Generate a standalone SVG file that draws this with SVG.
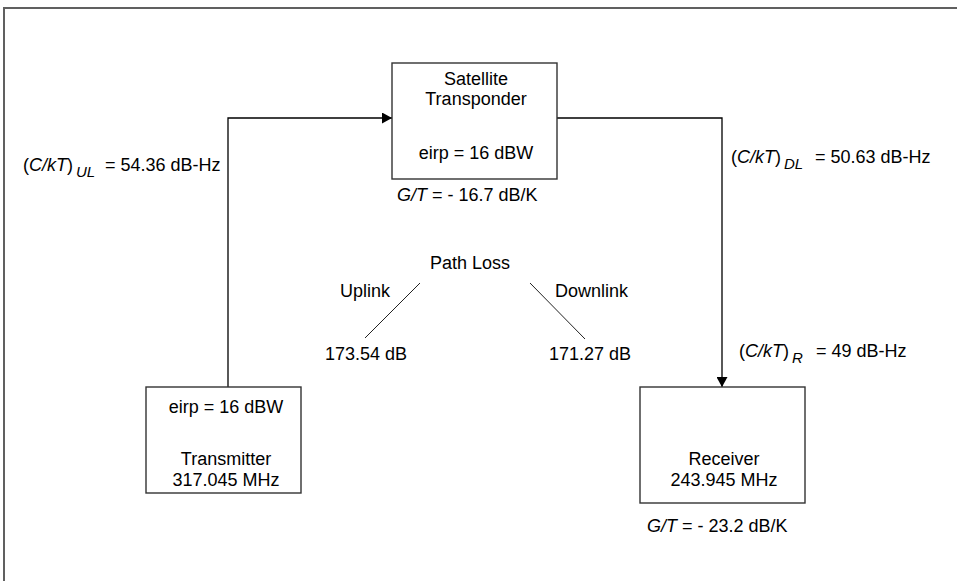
<svg xmlns="http://www.w3.org/2000/svg" width="957" height="581" viewBox="0 0 957 581">
<style>
text{font-family:"Liberation Sans",Arial,sans-serif;font-size:18px;fill:#000}
.c{text-anchor:middle}
.i{font-style:italic}
.sub{font-style:italic;font-size:15px}
.box{fill:#fff;stroke:#333;stroke-width:1.4}
.ln{fill:none;stroke:#000;stroke-width:1.3}
.pl{fill:none;stroke:#222;stroke-width:1}
</style>
<defs>
<marker id="ah" markerWidth="10" markerHeight="11" refX="10" refY="5.5" orient="auto" markerUnits="userSpaceOnUse">
<path d="M0,0 L10,5.5 L0,11 Z" fill="#000"/>
</marker>
</defs>
<rect x="4" y="8" width="1000" height="1000" fill="#fff" stroke="#606060" stroke-width="2"/>
<g id="connectors">
<path class="ln" d="M228,387 V118 H392" marker-end="url(#ah)"/>
<path class="ln" d="M557,118 H722 V387" marker-end="url(#ah)"/>
</g>
<g id="satellite">
<rect class="box" x="392" y="63" width="165" height="116"/>
<text class="c" x="476" y="84.5">Satellite<tspan x="476" dy="20.5">Transponder</tspan></text>
<text class="c" x="476" y="159">eirp = 16 dBW</text>
<text x="397" y="201"><tspan class="i">G/T</tspan> = - 16.7 dB/K</text>
</g>
<g id="transmitter">
<rect class="box" x="146" y="387" width="155" height="106"/>
<text class="c" x="226" y="413">eirp = 16 dBW</text>
<text class="c" x="226" y="465">Transmitter<tspan x="226" dy="20.5">317.045 MHz</tspan></text>
</g>
<g id="receiver">
<rect class="box" x="640" y="387" width="165" height="116"/>
<text class="c" x="724" y="465">Receiver<tspan x="724" dy="20.5">243.945 MHz</tspan></text>
<text x="647" y="532"><tspan class="i">G/T</tspan> = - 23.2 dB/K</text>
</g>
<g id="uplink-label">
<text x="23" y="171">(<tspan class="i">C/kT</tspan>)<tspan class="sub" x="76" y="177">UL</tspan><tspan x="105" y="171">= 54.36 dB-Hz</tspan></text>
</g>
<g id="downlink-label">
<text x="731" y="163">(<tspan class="i">C/kT</tspan>)<tspan class="sub" x="784" y="169">DL</tspan><tspan x="815" y="163">= 50.63 dB-Hz</tspan></text>
</g>
<g id="receiver-label">
<text x="739" y="357">(<tspan class="i">C/kT</tspan>)<tspan class="sub" x="792" y="363">R</tspan><tspan x="816" y="357">= 49 dB-Hz</tspan></text>
</g>
<g id="path-loss">
<text class="c" x="470" y="269">Path Loss</text>
<text x="340" y="297">Uplink</text>
<text x="555" y="297">Downlink</text>
<line class="pl" x1="420" y1="283" x2="365" y2="338"/>
<line class="pl" x1="530" y1="283" x2="585" y2="339"/>
<text x="325" y="360">173.54 dB</text>
<text x="549" y="360">171.27 dB</text>
</g>
</svg>
